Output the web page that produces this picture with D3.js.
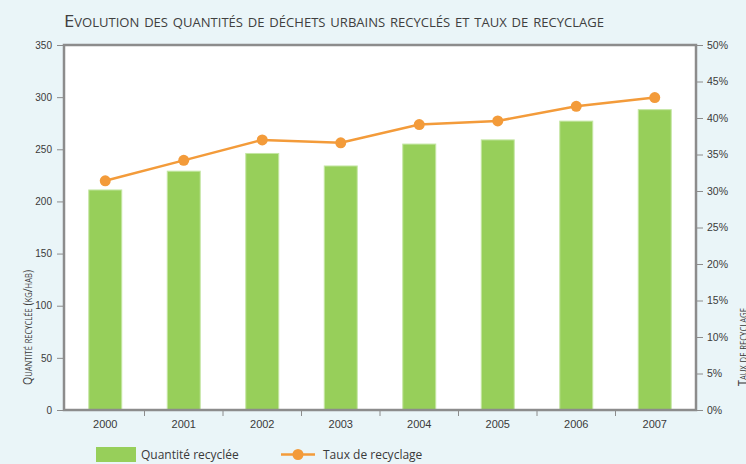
<!DOCTYPE html>
<html><head><meta charset="utf-8">
<script src="https://cdn.jsdelivr.net/npm/d3@7"></script>
<style>
body{margin:0;background:#eaf5f8;}
svg{display:block;font-family:"Open Sans","Noto Sans",sans-serif;}
</style></head><body>
<svg id="c" width="746" height="464"></svg>
<script>
const years = ["2000","2001","2002","2003","2004","2005","2006","2007"];
const quantite = [211, 229, 246, 234, 255, 259, 277, 288];
const taux = [31.4, 34.2, 37.0, 36.6, 39.1, 39.6, 41.6, 42.8];
const leftTicks = [0,50,100,150,200,250,300,350];
const rightTicks = [0,5,10,15,20,25,30,35,40,45,50];

const svg = d3.select("#c");
const L = 64, R = 696, T = 45, B = 410;
const green = "#97cf5a", orange = "#f39b3a", grey = "#8c8c8c", txt = "#3a3a3a";

svg.append("rect").attr("width",746).attr("height",464).attr("fill","#eaf5f8");
svg.append("rect").attr("x",L).attr("y",T).attr("width",R-L).attr("height",B-T).attr("fill","#fff");

const x = d3.scaleBand().domain(years).range([L+2, R-2]).paddingInner(0.58).paddingOuter(0.29);
const xStep = d3.scaleBand().domain(years).range([L+2, R-2]);
const yL = d3.scaleLinear().domain([0,350]).range([B,T]);
const yR = d3.scaleLinear().domain([0,50]).range([B,T]);

// bars
svg.append("g").selectAll("rect").data(years).join("rect")
  .attr("x",d=>x(d)).attr("width",x.bandwidth())
  .attr("y",(d,i)=>yL(quantite[i])).attr("height",(d,i)=>B-yL(quantite[i]))
  .attr("fill",green).attr("stroke","#c4e6a3").attr("stroke-width",1);

// line
const line = d3.line().x((d,i)=>xStep(years[i])+xStep.bandwidth()/2).y(d=>yR(d));
svg.append("path").datum(taux).attr("d",line).attr("fill","none").attr("stroke",orange).attr("stroke-width",2.5);
svg.append("g").selectAll("circle").data(taux).join("circle")
  .attr("cx",(d,i)=>xStep(years[i])+xStep.bandwidth()/2).attr("cy",d=>yR(d)).attr("r",5.5).attr("fill",orange);

// frame
svg.append("rect").attr("x",L).attr("y",T).attr("width",R-L).attr("height",B-T)
  .attr("fill","none").attr("stroke",grey).attr("stroke-width",2.5);

// left axis
const gL = svg.append("g").attr("transform",`translate(${L-1},0)`)
  .call(d3.axisLeft(yL).tickValues(leftTicks).tickSize(6).tickPadding(5).tickFormat(d3.format("d")));
gL.select(".domain").remove();
gL.selectAll("line").attr("stroke",grey);
gL.selectAll("text").attr("fill",txt).attr("font-size",10);

// right axis
const gR = svg.append("g").attr("transform",`translate(${R+1},0)`)
  .call(d3.axisRight(yR).tickValues(rightTicks).tickSize(6).tickPadding(4).tickFormat(d=>d+"%"));
gR.select(".domain").remove();
gR.selectAll("line").attr("stroke",grey);
gR.selectAll("text").attr("fill",txt).attr("font-size",10.5);

// bottom axis: ticks between categories
const gB = svg.append("g").attr("transform",`translate(0,${B+1})`)
  .call(d3.axisBottom(xStep).tickSize(0).tickPadding(9));
gB.select(".domain").remove();
gB.selectAll("text").attr("fill",txt).attr("font-size",11);
svg.append("g").selectAll("line").data(years.slice(1)).join("line")
  .attr("x1",d=>xStep(d)).attr("x2",d=>xStep(d)).attr("y1",B).attr("y2",B+6)
  .attr("stroke",grey).attr("stroke-width",1);

// title
svg.append("text").attr("x",64).attr("y",27).attr("fill","#404040")
  .attr("font-size",17).attr("font-weight",400).style("font-variant","small-caps")
  .attr("font-family","'Open Sans','Noto Sans',sans-serif")
  .attr("textLength",540).attr("lengthAdjust","spacingAndGlyphs")
  .text("Evolution des quantités de déchets urbains recyclés et taux de recyclage");

// axis titles
svg.append("text").attr("transform","translate(32,385) rotate(-90)").attr("fill",txt)
  .attr("font-size",12.5).style("font-variant","small-caps")
  .attr("textLength",115).attr("lengthAdjust","spacingAndGlyphs").text("Quantité recyclée (kg/hab)");
svg.append("text").attr("transform","translate(747,386) rotate(-90)").attr("fill",txt)
  .attr("font-size",12.5).style("font-variant","small-caps")
  .attr("textLength",78).attr("lengthAdjust","spacingAndGlyphs").text("Taux de recyclage");

// legend
svg.append("rect").attr("x",96).attr("y",447).attr("width",40).attr("height",15).attr("fill",green);
svg.append("text").attr("x",141).attr("y",459).attr("fill",txt).attr("font-size",12).text("Quantité recyclée");
svg.append("line").attr("x1",281).attr("x2",315).attr("y1",454.5).attr("y2",454.5).attr("stroke",orange).attr("stroke-width",2.5);
svg.append("circle").attr("cx",298).attr("cy",454.5).attr("r",5.5).attr("fill",orange);
svg.append("text").attr("x",323).attr("y",459).attr("fill",txt).attr("font-size",12).text("Taux de recyclage");
</script>
</body></html>
